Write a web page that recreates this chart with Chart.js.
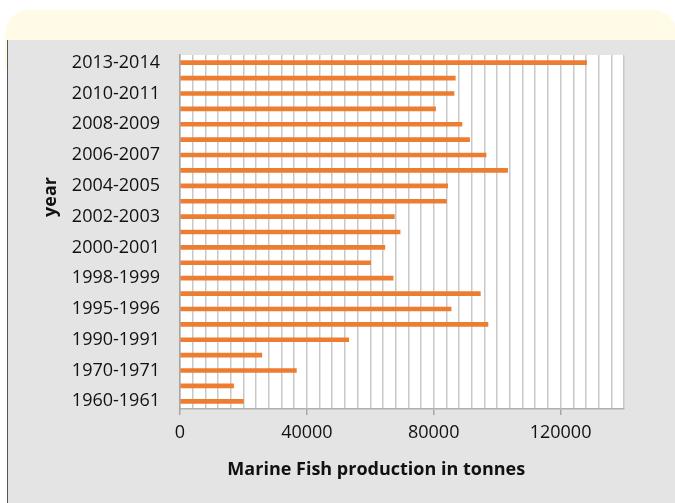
<!DOCTYPE html>
<html>
<head>
<meta charset="UTF-8">
<style>
  body { margin: 0; background: #ffffff; }
  .top_panel {
    position: absolute; left: 5px; top: 10px; width: 672px; height: 60px;
    background: #fffbe7; border-radius: 24px 24px 0 0;
  }
  .chart_panel {
    position: absolute; left: 7px; top: 40px; right: 0; bottom: 0;
    background: #e4e4e4; border-left: 1px solid #555555;
  }
  .wrap { position: absolute; left: 0; top: 0; width: 675px; height: 503px; }
</style>
</head>
<body>
<div class="top_panel"></div>
<div class="chart_panel"></div>
<div class="wrap"><canvas id="myChart" width="675" height="503"></canvas></div>

<script src="https://cdn.jsdelivr.net/npm/chart.js"></script>
<script>
// years, oldest first (every second one gets a label on the axis)
var years = ['1960-1961', '1965-1966', '1970-1971', '1980-1981', '1990-1991', '1994-1995',
  '1995-1996', '1996-1997', '1998-1999', '1999-2000', '2000-2001', '2001-2002',
  '2002-2003', '2003-2004', '2004-2005', '2005-2006', '2006-2007', '2007-2008',
  '2008-2009', '2009-2010', '2010-2011', '2011-2012', '2013-2014'];

// marine fish production, tonnes
var production = [20000, 16900, 36700, 25800, 53200, 97100,
  85500, 94700, 67200, 60100, 64600, 69400,
  67600, 84000, 84400, 103300, 96500, 91300,
  88900, 80600, 86400, 86800, 128200];

var xMax = 140000;
var xStep = 4000;
var xLabelEvery = 40000;

var fontName = "'Open Sans', 'Noto Sans', sans-serif";

// no-break spaces, used to push the axis titles off centre like the original
function pad(n) { return new Array(n + 1).join('\u00a0'); }

// white plot area
var plotBackground = {
  id: 'plotBackground',
  beforeDraw: function (chart) {
    var a = chart.chartArea;
    chart.ctx.save();
    chart.ctx.fillStyle = '#ffffff';
    chart.ctx.fillRect(a.left, a.top, a.right - a.left, a.bottom - a.top);
    chart.ctx.restore();
  }
};

new Chart(document.getElementById('myChart'), {
  type: 'bar',
  data: {
    labels: years,
    datasets: [{
      data: production,
      backgroundColor: '#ED7D31',
      barThickness: 4
    }]
  },
  options: {
    indexAxis: 'y',
    responsive: false,
    animation: false,
    layout: { padding: { top: 55, left: 36, right: 51, bottom: 18 } },
    plugins: { legend: { display: false }, tooltip: { enabled: false } },
    scales: {
      x: {
        min: 0,
        max: xMax,
        afterFit: function (scale) { scale.height = 76; },
        ticks: {
          stepSize: xStep,
          autoSkip: false,
          maxRotation: 0,
          padding: 7,
          color: '#111',
          font: { family: fontName, size: 18 },
          callback: function (v) { return v % xLabelEvery === 0 ? v : ''; }
        },
        grid: {
          color: '#c8c8c8',
          lineWidth: 1.5,
          tickLength: 6,
          tickColor: function (ctx) {
            return ctx.tick && ctx.tick.value % xLabelEvery === 0 ? '#a6a6a6' : 'rgba(0,0,0,0)';
          }
        },
        border: { color: '#b0b0b0', width: 1.5 },
        title: {
          display: true,
          text: 'Marine Fish production in tonnes' + pad(11),
          color: '#111',
          font: { family: fontName, size: 18, weight: 'bold' }
        }
      },
      y: {
        reverse: true,
        afterFit: function (scale) { scale.width = 144; },
        ticks: {
          autoSkip: false,
          padding: 20,
          color: '#111',
          font: { family: fontName, size: 18 },
          callback: function (v, i) { return i % 2 === 0 ? this.getLabelForValue(v) : ''; }
        },
        grid: { display: false, drawTicks: false },
        border: { color: '#a6a6a6', width: 1.5 },
        title: {
          display: true,
          text: pad(15) + 'year',
          color: '#111',
          font: { family: fontName, size: 18, weight: 'bold' }
        }
      }
    }
  },
  plugins: [plotBackground]
});
</script>
</body>
</html>
